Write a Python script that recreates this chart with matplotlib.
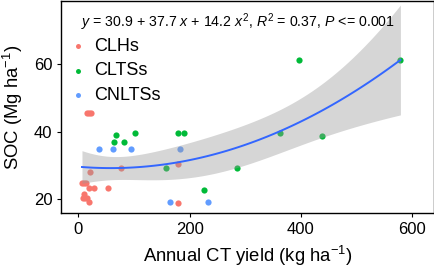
import matplotlib.pyplot as plt
import numpy as np

plt.rcParams['font.family'] = ['Liberation Sans', 'DejaVu Sans']
plt.rcParams['mathtext.fontset'] = 'custom'
plt.rcParams['mathtext.rm'] = 'Liberation Sans'
plt.rcParams['mathtext.it'] = 'Liberation Sans:italic'

# CLHs
clh_x = [15, 19, 23, 21.5, 76.5, 6.6, 10, 14, 18.5, 27.5, 52.6, 9.6, 8.4, 12, 15.5, 19.7, 180, 180]
clh_y = [45.5, 45.5, 45.5, 28.0, 29.4, 25.0, 25.0, 25.0, 23.4, 23.4, 23.5, 21.5, 20.3, 20.3, 20.3, 19.4, 30.6, 18.9]
# CLTSs
clts_x = [67.6, 65, 83, 101, 180, 190.7, 157, 286, 226.6, 363, 437.7, 397, 578.8]
clts_y = [38.9, 37.1, 37.1, 39.7, 39.7, 39.7, 29.4, 29.4, 22.9, 39.7, 38.8, 61.2, 61.2]
# CNLTSs
cnlts_x = [36.5, 61.5, 93.8, 183.5, 165.6, 233.7]
cnlts_y = [35.0, 35.0, 35.0, 35.0, 19.4, 19.4]

groups = ['CLHs', 'CLTSs', 'CNLTSs']
colors = ['#F8766D', '#00BA38', '#619CFF']

fig = plt.figure(figsize=(4.35, 2.69), dpi=100)
ax = fig.add_axes([0.141, 0.208, 0.856, 0.789])

for lab, xs, ys, c in zip(groups, [clh_x, clts_x, cnlts_x], [clh_y, clts_y, cnlts_y], colors):
    ax.scatter(xs, ys, s=20, color=c, label=lab, linewidths=0, zorder=2)

# quadratic lm fit with 95% CI, as geom_smooth
x = np.array(clh_x + clts_x + cnlts_x)
y = np.array(clh_y + clts_y + cnlts_y)
X = np.column_stack([np.ones_like(x), x, x ** 2])
beta, *_ = np.linalg.lstsq(X, y, rcond=None)
res = y - X @ beta
n = len(x)
s2 = res @ res / (n - 3)
cov = s2 * np.linalg.inv(X.T @ X)
xg = np.linspace(x.min(), x.max(), 80)
G = np.column_stack([np.ones_like(xg), xg, xg ** 2])
yg = G @ beta
se = np.sqrt(np.einsum('ij,jk,ik->i', G, cov, G))
t = 2.03
ax.fill_between(xg, yg - t * se, yg + t * se, color='#999999', alpha=0.4, linewidth=0, zorder=3)
ax.plot(xg, yg, color='#3366FF', linewidth=1.4, zorder=4)

ax.text(287, 72.2, r'$y$ = 30.9 + 37.7 $x$ + 14.2 $x^2$, $R^2$ = 0.37, $P$ <= 0.001',
        fontsize=10.2, ha='center', va='center')

leg = ax.legend(loc='upper left', bbox_to_anchor=(-0.005, 0.86), frameon=False, fontsize=13,
                handletextpad=0.2, labelspacing=0.42, borderaxespad=0.0, handlelength=1.3,
                markerscale=0.8)

ax.set_xlim(-30.5, 638.6)
ax.set_ylim(16, 78.6)
ax.set_xticks([0, 200, 400, 600])
ax.set_yticks([20, 40, 60])
ax.tick_params(labelsize=12, length=3, width=0.8, colors='black')
for sp in ax.spines.values():
    sp.set_linewidth(1.0)
ax.set_xlabel('Annual CT yield (kg ha$^{-1}$)', fontsize=13.3, labelpad=5)
ax.set_ylabel('SOC (Mg ha$^{-1}$)', fontsize=13.3, labelpad=6)

fig.savefig('out.png', dpi=100)
